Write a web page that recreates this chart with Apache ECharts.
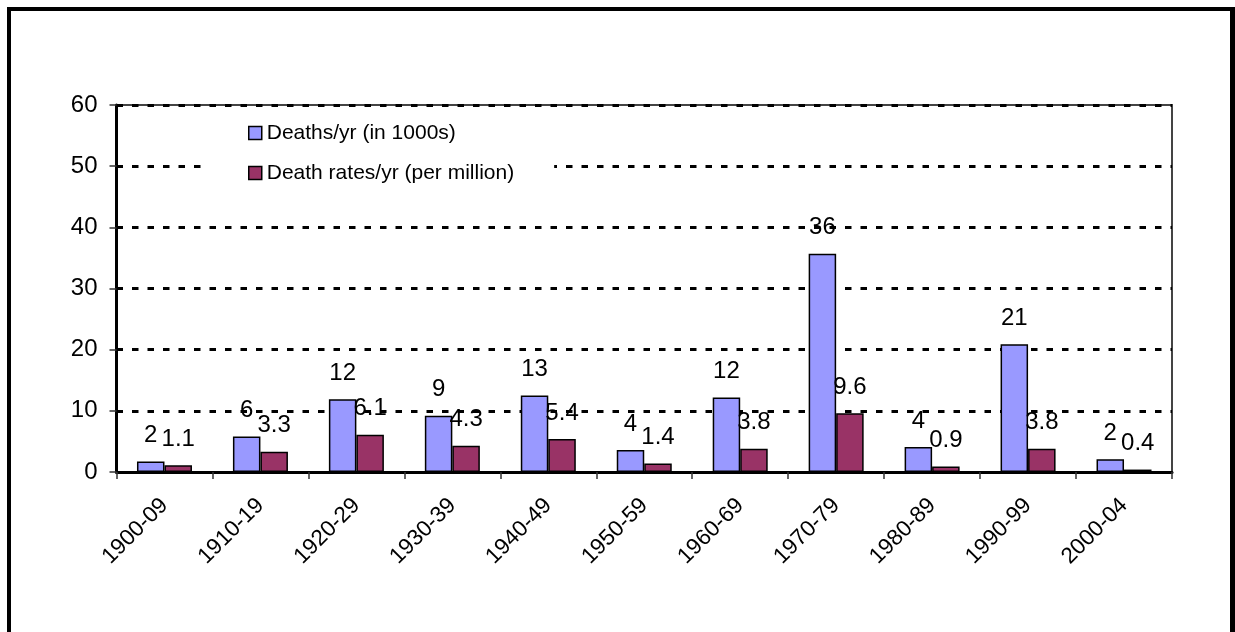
<!DOCTYPE html>
<html>
<head>
<meta charset="utf-8">
<script src="https://cdn.jsdelivr.net/npm/echarts@6/dist/echarts.min.js"></script>
<style>
  html, body { margin: 0; padding: 0; background: #fff; overflow: hidden; }
  #chart { position: absolute; left: 0; top: 0; width: 1235px; height: 632px; }
  #frame { position: absolute; left: 7px; top: 7px; width: 1219px; height: 640px;
           border: 4.5px solid #000; border-right-width: 5px; pointer-events: none; }
</style>
</head>
<body>
<div id="chart"></div>
<div id="frame"></div>
<script>
// Decades covered by the chart
const decades = ['1900-09', '1910-19', '1920-29', '1930-39', '1940-49', '1950-59',
                 '1960-69', '1970-79', '1980-89', '1990-99', '2000-04'];
// Average deaths per year, in thousands
const deathsPerYear = [1.7, 5.8, 11.9, 9.2, 12.5, 3.6, 12.2, 35.7, 4.1, 20.9, 2.1];
// Average death rate per year, per million people
const deathRates = [1.1, 3.3, 6.1, 4.3, 5.4, 1.4, 3.8, 9.6, 0.9, 3.8, 0.4];
// Value-axis ticks
const yMin = 0, yMax = 60, yStep = 10;

const FONT = 'Liberation Sans, Arial, sans-serif';

const chart = echarts.init(document.getElementById('chart'), null, { renderer: 'canvas' });

const barLabel = (fmt) => ({
  show: true,
  position: 'top',
  distance: 14,
  color: '#000',
  fontFamily: FONT,
  fontSize: 24,
  formatter: (p) => fmt(p.value)
});

chart.setOption({
  animation: false,
  backgroundColor: '#fff',
  grid: {
    left: 116.5, right: 63, top: 105, bottom: 160,
    show: true, borderColor: '#444', borderWidth: 2, backgroundColor: 'transparent'
  },
  legend: {
    orient: 'vertical',
    left: 208, top: 110,
    padding: [12, 40, 14, 40],
    backgroundColor: '#fff',
    itemWidth: 13, itemHeight: 13, itemGap: 18,
    icon: 'rect',
    textStyle: { color: '#000', fontFamily: FONT, fontSize: 21, lineHeight: 22 },
    itemStyle: { borderColor: '#000', borderWidth: 1.5 },
    data: ['Deaths/yr (in 1000s)', 'Death rates/yr (per million)']
  },
  xAxis: {
    type: 'category',
    data: decades,
    boundaryGap: true,
    axisLine: { lineStyle: { color: '#000', width: 3 } },
    axisTick: { show: true, length: 7, lineStyle: { color: '#333', width: 1.5 } },
    axisLabel: {
      rotate: 45, margin: 30, color: '#000', fontFamily: FONT, fontSize: 22.5, interval: 0
    },
    splitLine: { show: false }
  },
  yAxis: {
    type: 'value',
    min: yMin, max: yMax, interval: yStep,
    axisLine: { show: true, lineStyle: { color: '#000', width: 3 } },
    axisTick: { show: true, length: 7, lineStyle: { color: '#333', width: 1.5 } },
    axisLabel: { margin: 19, color: '#000', fontFamily: FONT, fontSize: 24 },
    splitLine: {
      show: true,
      lineStyle: { color: '#000', width: 3, type: [6.5, 9] }
    }
  },
  series: [
    {
      name: 'Deaths/yr (in 1000s)',
      type: 'bar',
      data: deathsPerYear,
      barWidth: 27.5,
      barGap: '0%',
      itemStyle: { color: '#9999FF', borderColor: '#000', borderWidth: 1.5 },
      label: barLabel(v => String(Math.round(v)))
    },
    {
      name: 'Death rates/yr (per million)',
      type: 'bar',
      data: deathRates,
      barWidth: 27.5,
      barGap: '0%',
      itemStyle: { color: '#993366', borderColor: '#000', borderWidth: 1.5 },
      label: barLabel(v => v.toFixed(1))
    }
  ]
});
</script>
</body>
</html>
